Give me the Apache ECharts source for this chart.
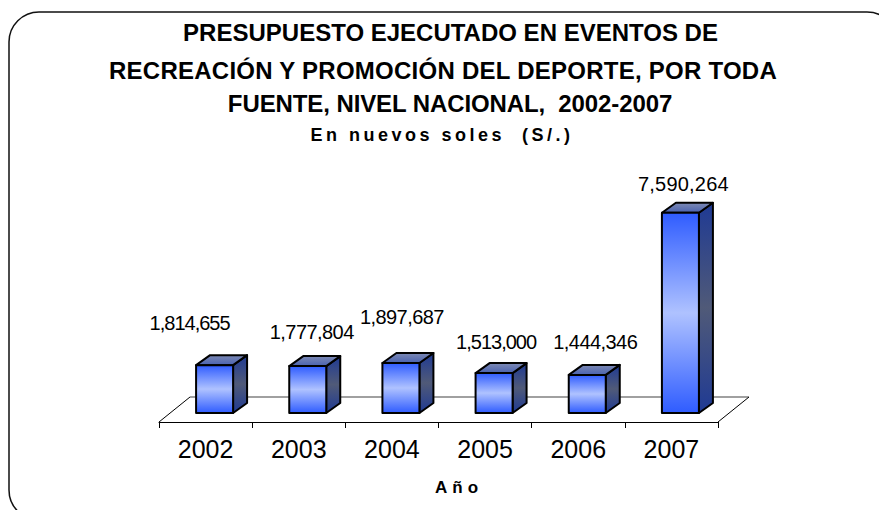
<!DOCTYPE html>
<html>
<head>
<meta charset="utf-8">
<title>Presupuesto ejecutado</title>
<style>
  html, body { margin: 0; padding: 0; background: #fff; }
  #chart { width: 879px; height: 510px; }
</style>
<script src="https://cdn.jsdelivr.net/npm/echarts@6/dist/echarts.min.js"></script>
</head>
<body>
<div id="chart"></div>
<script>
(function () {
  const years = ['2002', '2003', '2004', '2005', '2006', '2007'];
  const budget = [1814655, 1777804, 1897687, 1513000, 1444346, 7590264];
  const budgetLabels = ['1,814,655', '1,777,804', '1,897,687', '1,513,000', '1,444,346', '7,590,264'];
  const titleLines = [
    'PRESUPUESTO EJECUTADO EN EVENTOS DE',
    'RECREACIÓN Y PROMOCIÓN DEL DEPORTE, POR TODA',
    'FUENTE, NIVEL NACIONAL,  2002-2007'
  ];
  const subtitle = 'En nuevos soles  (S/.)';
  const xName = 'Año';

  // labels were placed by hand in the original, offset from the bar's top centre
  const labelNudge = [[-25, -42], [4, -34], [1, -46], [2, -31], [8, -33], [3, -29]];
  const labelSpacing = ['-1px', '-0.55px', '-0.55px', '-1px', '-0.55px', '0.2px'];

  const FONT = '"Liberation Sans", Arial, sans-serif';
  const DEPTH_X = 14;
  const DEPTH_Y = 10;
  const BAR_W = 37;
  const BAR_SHIFT = 9;

  function vgrad(stops) {
    return new echarts.graphic.LinearGradient(0, 0, 0, 1, stops.map((c, i) => ({
      offset: i / (stops.length - 1),
      color: c
    })));
  }

  function renderFloor(params, api) {
    const g = params.coordSys;
    const front = g.y + g.height + 9;
    const back = front - 25;
    const left = g.x;
    const right = g.x + g.width;
    const lines = [
      { p: [left, front, left + 31, back], c: '#000', w: 1 },
      { p: [left + 31, back, right + 31, back], c: '#808080', w: 1.5 },
      { p: [right + 31, back, right, front], c: '#000', w: 1 }
    ];
    return {
      type: 'group',
      children: lines.map(l => ({
        type: 'line',
        shape: { x1: l.p[0], y1: l.p[1], x2: l.p[2], y2: l.p[3] },
        style: { stroke: l.c, lineWidth: l.w, fill: null }
      }))
    };
  }

  function renderBar(params, api) {
    const idx = api.value(0);
    const top = api.coord([idx, api.value(1)]);
    const base = api.coord([idx, 0]);
    const x0 = top[0] + BAR_SHIFT - BAR_W / 2;
    const x1 = x0 + BAR_W;
    const nudge = labelNudge[params.dataIndex];
    const edge = { stroke: '#000', lineWidth: 2, lineJoin: 'round' };
    return {
      type: 'group',
      children: [
        {
          type: 'polygon',
          shape: { points: [[x1, top[1]], [x1 + DEPTH_X, top[1] - DEPTH_Y], [x1 + DEPTH_X, base[1] - DEPTH_Y], [x1, base[1]]] },
          style: Object.assign({ fill: vgrad(['#1f3a94', '#505a78', '#1f3a94']) }, edge)
        },
        {
          type: 'polygon',
          shape: { points: [[x0, top[1]], [x0 + DEPTH_X, top[1] - DEPTH_Y], [x1 + DEPTH_X, top[1] - DEPTH_Y], [x1, top[1]]] },
          style: Object.assign({ fill: vgrad(['#7d8ab4', '#4a62b0']) }, edge)
        },
        {
          type: 'rect',
          shape: { x: x0, y: top[1], width: BAR_W, height: base[1] - top[1] },
          style: Object.assign({ fill: vgrad(['#2f5cff', '#afc2ff', '#2f5cff']) }, edge)
        },
        {
          type: 'text',
          style: {
            x: top[0] + BAR_SHIFT + nudge[0],
            y: top[1] + nudge[1],
            text: budgetLabels[params.dataIndex],
            font: '20px ' + FONT,
            fill: '#000',
            align: 'center',
            verticalAlign: 'middle'
          }
        }
      ]
    };
  }

  const titleTops = [13, 51, 84];
  const titleCentres = [445.5, 438, 445];
  const titleSpacing = ['0px', '0.25px', '-0.1px'];
  const titles = titleLines.map((line, i) => ({
    text: line,
    left: titleCentres[i],
    top: titleTops[i],
    textAlign: 'center',
    textStyle: { fontFamily: FONT, fontWeight: 'bold', fontSize: 24, color: '#000', lineHeight: 28 }
  }));
  titles.push({
    text: subtitle,
    left: 437,
    top: 120,
    textAlign: 'center',
    textStyle: { fontFamily: FONT, fontWeight: 'bold', fontSize: 18, color: '#000', lineHeight: 20 }
  });
  titles.push({
    text: xName,
    left: 454,
    top: 473,
    textAlign: 'center',
    textStyle: { fontFamily: FONT, fontWeight: 'bold', fontSize: 17, color: '#000', lineHeight: 18 }
  });

  const chart = echarts.init(document.getElementById('chart'), null, { renderer: 'svg' });
  chart.setOption({
    animation: false,
    backgroundColor: '#fff',
    title: titles,
    grid: { left: 159, width: 559, top: 202, height: 211 },
    xAxis: {
      type: 'category',
      data: years,
      offset: 9,
      axisLine: { onZero: false, lineStyle: { color: '#000', width: 1 } },
      axisTick: { show: true, alignWithLabel: false, length: 6, lineStyle: { color: '#000' } },
      axisLabel: { fontFamily: FONT, fontSize: 25, color: '#000', margin: 14 },
      splitLine: { show: false }
    },
    yAxis: { type: 'value', min: 0, max: 8000000, show: false, splitLine: { show: false } },
    graphic: [{
      type: 'rect',
      shape: { x: 9, y: 12, width: 888, height: 508, r: 30 },
      style: { fill: null, stroke: '#111', lineWidth: 1.5 },
      z: -1
    }],
    series: [
      { type: 'custom', data: [[0, 0]], renderItem: renderFloor, clip: false, silent: true, z: 1 },
      {
        type: 'custom',
        data: budget.map((v, i) => [i, v]),
        encode: { x: 0, y: 1 },
        renderItem: renderBar,
        clip: false,
        z: 2
      }
    ]
  });

  // the original's spaced-out and squeezed text, zrender has no option for this
  const spacing = { [subtitle]: '3.5px', [xName]: '5px' };
  titleLines.forEach((t, i) => { spacing[t] = titleSpacing[i]; });
  budgetLabels.forEach((t, i) => { spacing[t] = labelSpacing[i]; });
  document.querySelectorAll('#chart text').forEach(el => {
    const s = spacing[el.textContent];
    if (s) el.style.letterSpacing = s;
  });
})();
</script>
</body>
</html>
